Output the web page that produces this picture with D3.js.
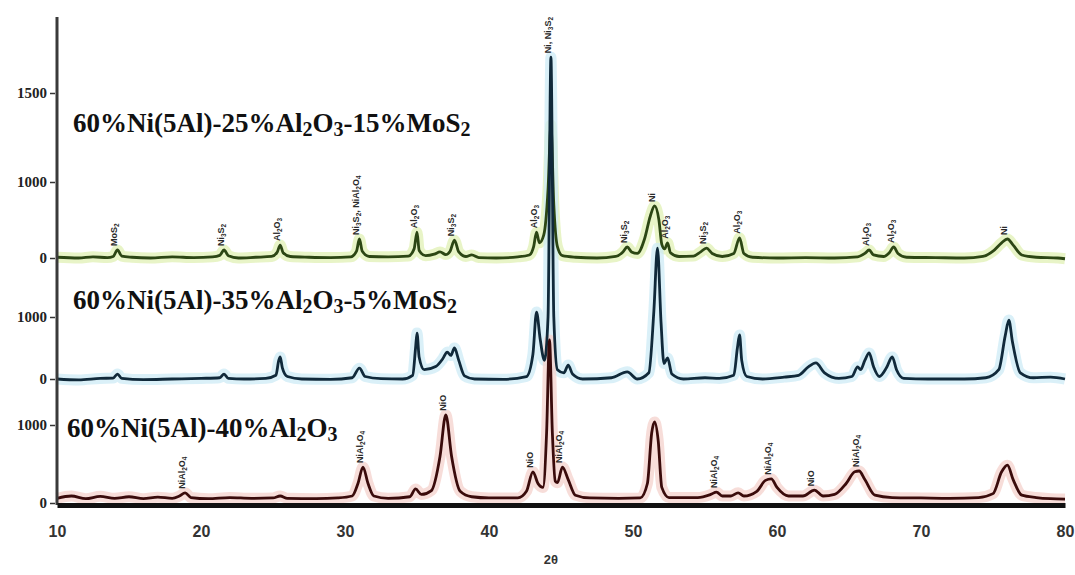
<!DOCTYPE html>
<html>
<head>
<meta charset="utf-8">
<script src="https://cdn.jsdelivr.net/npm/d3@7/dist/d3.min.js"></script>
<style>
  html, body { margin: 0; padding: 0; background: #fff; }
  svg { display: block; }
</style>
</head>
<body>
<svg id="chart" width="1075" height="575"></svg>
<script>
// ---- data: [2theta, intensity] ----
var seriesNames = [
    "60%Ni(5Al)-25%Al_2O_3-15%MoS_2",
    "60%Ni(5Al)-35%Al_2O_3-5%MoS_2",
    "60%Ni(5Al)-40%Al_2O_3"
];

var xTicks = [10, 20, 30, 40, 50, 60, 70, 80];
var topTicks = [0, 1000, 1500];
var midTicks = [0, 1000];
var botTicks = [0, 1000];

var topData = [
    [10.0, 10], [11.5, 0], [12.5, 15], [13.5, 5], [13.9, 20], [14.2, 105], [14.5, 25], [15.2, 10],
    [16.5, 0], [18.0, 15], [19.5, 5], [20.8, 15], [21.3, 35], [21.6, 105], [21.9, 30], [22.6, 0],
    [23.8, 10], [24.9, 20], [25.3, 80], [25.5, 170], [25.7, 70], [26.2, 20], [27.5, 10], [29.0, 5],
    [30.4, 15], [30.8, 90], [31.0, 250], [31.2, 90], [31.7, 20], [33.0, 15], [34.4, 25], [34.8, 120],
    [35.0, 340], [35.15, 100], [35.6, 30], [36.2, 50], [36.6, 80], [37.0, 45], [37.3, 90], [37.6, 235],
    [37.9, 80], [38.4, 20], [38.8, 40], [39.3, 5], [40.5, 0], [42.0, 15], [42.8, 40], [43.1, 150],
    [43.3, 340], [43.5, 200], [43.8, 300], [44.1, 900], [44.3, 1320], [44.5, 700], [44.75, 150],
    [45.1, 30], [46.0, 10], [47.5, 0], [48.8, 20], [49.3, 80], [49.6, 145], [49.9, 80], [50.3, 60],
    [50.8, 250], [51.2, 550], [51.5, 685], [51.8, 500], [52.0, 180], [52.2, 120], [52.4, 200],
    [52.6, 70], [53.2, 20], [54.2, 25], [54.7, 80], [55.1, 130], [55.5, 60], [56.2, 20], [57.0, 60],
    [57.4, 265], [57.7, 60], [58.3, 10], [60.0, 0], [62.0, 5], [64.0, 0], [65.6, 15], [66.1, 60],
    [66.4, 105], [66.7, 40], [67.4, 20], [67.8, 70], [68.1, 145], [68.4, 60], [69.0, 10], [71.0, 5],
    [73.0, 0], [74.3, 20], [75.0, 90], [75.6, 200], [76.0, 250], [76.4, 170], [77.0, 40], [78.0, 10],
    [79.5, 0], [80.0, -10]
];

var midData = [
    [10.0, 0], [11.5, -15], [13.0, 10], [13.9, 15], [14.2, 80], [14.5, 10], [16.0, -10], [18.0, 0],
    [20.0, 10], [21.3, 20], [21.6, 80], [21.9, 10], [23.0, 0], [24.5, 10], [25.2, 60], [25.4, 300],
    [25.5, 355], [25.65, 180], [26.0, 40], [27.0, 0], [29.0, -5], [30.5, 20], [31.0, 175], [31.4, 40],
    [32.5, 5], [34.0, 0], [34.7, 60], [34.9, 500], [35.0, 740], [35.15, 350], [35.5, 150], [36.3, 200],
    [36.8, 330], [37.1, 435], [37.35, 380], [37.6, 500], [37.9, 300], [38.3, 50], [39.0, 0], [41.0, -5],
    [42.6, 40], [43.05, 400], [43.3, 1080], [43.55, 650], [43.85, 300], [44.1, 1000], [44.3, 5190],
    [44.5, 1000], [44.75, 150], [45.2, 100], [45.5, 225], [45.8, 80], [46.5, 0], [48.5, 20], [49.6, 115],
    [50.3, 0], [51.1, 100], [51.45, 1100], [51.7, 2110], [51.95, 900], [52.15, 250], [52.4, 340],
    [52.7, 80], [53.5, 0], [55.0, 20], [56.0, 10], [57.0, 60], [57.25, 500], [57.4, 710], [57.55, 300],
    [57.9, 40], [59.0, 0], [60.5, 30], [61.5, 60], [62.2, 200], [62.7, 260], [63.3, 100], [64.3, 10],
    [65.2, 40], [65.6, 195], [65.8, 150], [66.1, 300], [66.4, 420], [66.7, 200], [67.1, 40], [67.6, 180],
    [68.0, 355], [68.3, 150], [68.8, 10], [70.5, 0], [73.0, 0], [74.5, 20], [75.4, 150], [75.85, 700],
    [76.1, 950], [76.35, 600], [76.9, 100], [77.8, 20], [79.0, 30], [80.0, 0]
];

var botData = [
    [10.0, 60], [11.0, 90], [12.0, 55], [13.0, 85], [14.0, 60], [15.0, 80], [16.0, 55], [17.0, 75],
    [18.0, 60], [18.5, 90], [18.9, 130], [19.3, 70], [20.5, 55], [22.0, 70], [23.5, 60], [25.0, 65],
    [25.5, 90], [26.0, 60], [28.0, 55], [29.5, 65], [30.5, 90], [30.9, 250], [31.25, 460], [31.6, 250],
    [32.0, 90], [33.0, 60], [34.5, 80], [34.9, 180], [35.3, 110], [36.0, 160], [36.6, 600], [37.0, 1130],
    [37.4, 600], [38.0, 150], [38.8, 80], [40.0, 65], [42.0, 65], [42.6, 150], [43.05, 400], [43.4, 250],
    [43.75, 200], [44.0, 900], [44.2, 2090], [44.4, 900], [44.6, 280], [44.75, 260], [45.1, 460],
    [45.5, 300], [46.0, 100], [47.0, 65], [49.0, 60], [50.5, 65], [51.0, 250], [51.3, 900], [51.5, 1040],
    [51.75, 800], [52.0, 200], [52.5, 70], [54.5, 70], [55.4, 110], [55.8, 140], [56.2, 90], [56.8, 90],
    [57.3, 130], [57.7, 90], [58.6, 150], [59.2, 290], [59.6, 310], [60.0, 200], [60.8, 90], [61.8, 90],
    [62.6, 165], [63.2, 90], [64.0, 110], [64.8, 250], [65.4, 400], [65.7, 410], [66.1, 300], [66.8, 100],
    [68.0, 70], [70.0, 65], [72.0, 60], [74.0, 70], [75.0, 120], [75.6, 400], [76.0, 485], [76.4, 300],
    [77.0, 100], [78.0, 70], [79.0, 55], [80.0, 50]
];

// phase labels: [2theta, text, intensity of the peak they sit on]
var topLabels = [
    [14.2, "MoS_2", 105], [21.6, "Ni_3S_2", 105], [25.5, "Al_2O_3", 170],
    [31.0, "Ni_3S_2, NiAl_2O_4", 250], [35.0, "Al_2O_3", 340], [37.6, "Ni_3S_2", 235],
    [43.3, "Al_2O_3", 340], [49.6, "Ni_3S_2", 145], [51.5, "Ni", 685], [52.4, "Al_2O_3", 200],
    [55.1, "Ni_3S_2", 130], [57.4, "Al_2O_3", 265], [66.4, "Al_2O_3", 105], [68.1, "Al_2O_3", 145],
    [76.0, "Ni", 250]
];
var midLabels = [
    [44.3, "Ni, Ni_3S_2", 5190]
];
var botLabels = [
    [18.9, "NiAl_2O_4", 130], [31.25, "NiAl_2O_4", 460], [37.0, "NiO", 1130], [43.05, "NiO", 400],
    [45.1, "NiAl_2O_4", 460], [55.8, "NiAl_2O_4", 140], [59.6, "NiAl_2O_4", 310], [62.6, "NiO", 165],
    [65.7, "NiAl_2O_4", 410]
];

// ---- scales ----
var svg = d3.select("#chart");

var x = d3.scaleLinear().domain([10, 80]).range([57, 1065]);
var yTop = d3.scaleLinear().domain([0, 1000, 1500]).range([258, 182, 93]);
var yMid = d3.scaleLinear().domain([0, 1000]).range([379, 317]);
var yBot = d3.scaleLinear().domain([0, 1000]).range([503, 425]);

// write text with "_n" turned into subscripts
function richText(el, str, subSize, shift) {
    var down = false;
    str.split(/(_\d)/).forEach(function(p) {
        if (!p) return;
        if (p.charAt(0) === "_") {
            el.append("tspan").attr("dy", down ? 0 : shift).style("font-size", subSize).text(p.slice(1));
            down = true;
        } else {
            el.append("tspan").attr("dy", down ? -shift : 0).text(p);
            down = false;
        }
    });
}

var panels = [
    {data: topData, y: yTop, labels: topLabels, ticks: topTicks, line: "#2c4614", glow: "#e0f0b4", name: seriesNames[0], tx: 73, ty: 132},
    {data: midData, y: yMid, labels: midLabels, ticks: midTicks, line: "#10293a", glow: "#cdebf6", name: seriesNames[1], tx: 73, ty: 309},
    {data: botData, y: yBot, labels: botLabels, ticks: botTicks, line: "#3a0b0b", glow: "#f4d2cc", name: seriesNames[2], tx: 67, ty: 437}
];

// glow bands first, then the traces on top
panels.forEach(function(p) {
    var line = d3.line()
        .x(function(d) { return x(d[0]); })
        .y(function(d) { return p.y(d[1]); })
        .curve(d3.curveMonotoneX);
    p.path = line(p.data);
    svg.append("path")
        .attr("d", p.path)
        .attr("fill", "none")
        .attr("stroke", p.glow)
        .attr("stroke-width", 11)
        .attr("stroke-linejoin", "round")
        .attr("opacity", 0.75);
});

panels.forEach(function(p) {
    svg.append("path")
        .attr("d", p.path)
        .attr("fill", "none")
        .attr("stroke", p.line)
        .attr("stroke-width", 2.8)
        .attr("stroke-linejoin", "round");
});

// y axis line
svg.append("line")
    .attr("x1", 57).attr("x2", 57)
    .attr("y1", 17).attr("y2", 505)
    .attr("stroke", "#3a3a3a")
    .attr("stroke-width", 3);

// per panel tick labels, phase labels and sample names
panels.forEach(function(p) {
    var ax = svg.append("g")
        .attr("transform", "translate(55,0)")
        .call(d3.axisLeft(p.y).tickValues(p.ticks).tickFormat(d3.format("d"))
            .tickSize(5).tickSizeOuter(0).tickPadding(3));
    ax.select(".domain").remove();
    ax.selectAll("line").attr("stroke", "#333").attr("stroke-width", 1.5);
    ax.selectAll("text")
        .attr("fill", "#222")
        .style("font-family", "'Liberation Serif', serif")
        .style("font-weight", "bold")
        .style("font-size", "15px");

    svg.append("g").selectAll("text")
        .data(p.labels)
        .enter()
        .append("text")
        .attr("transform", function(d) {
            return "translate(" + x(d[0]) + "," + (p.y(d[2]) - 4) + ") rotate(-90)";
        })
        .attr("dy", "0.35em")
        .attr("fill", "#2a2a2a")
        .style("font-family", "'Liberation Sans', Arial, sans-serif")
        .style("font-weight", "bold")
        .style("font-size", "9px")
        .each(function(d) { richText(d3.select(this), d[1], "6.5px", 2); });

    var t = svg.append("text")
        .attr("x", p.tx)
        .attr("y", p.ty)
        .attr("fill", "#111")
        .style("font-family", "'Liberation Serif', 'Times New Roman', serif")
        .style("font-weight", "bold")
        .style("font-size", "27px");
    richText(t, p.name, "20px", 4);
});

// x axis
var xAxis = svg.append("g")
    .attr("transform", "translate(0,505)")
    .call(d3.axisBottom(x).tickValues(xTicks).tickSize(0).tickPadding(21).tickFormat(d3.format("d")));
xAxis.select(".domain")
    .attr("stroke", "#111")
    .attr("stroke-width", 5);
xAxis.selectAll("text")
    .attr("fill", "#333")
    .style("font-family", "'Liberation Sans', Arial, sans-serif")
    .style("font-weight", "bold")
    .style("font-size", "16px");

svg.append("text")
    .attr("x", x(44.3))
    .attr("y", 564)
    .attr("text-anchor", "middle")
    .attr("fill", "#333")
    .style("font-family", "'Liberation Sans', Arial, sans-serif")
    .style("font-weight", "bold")
    .style("font-size", "13px")
    .text("2θ");
</script>
</body>
</html>
